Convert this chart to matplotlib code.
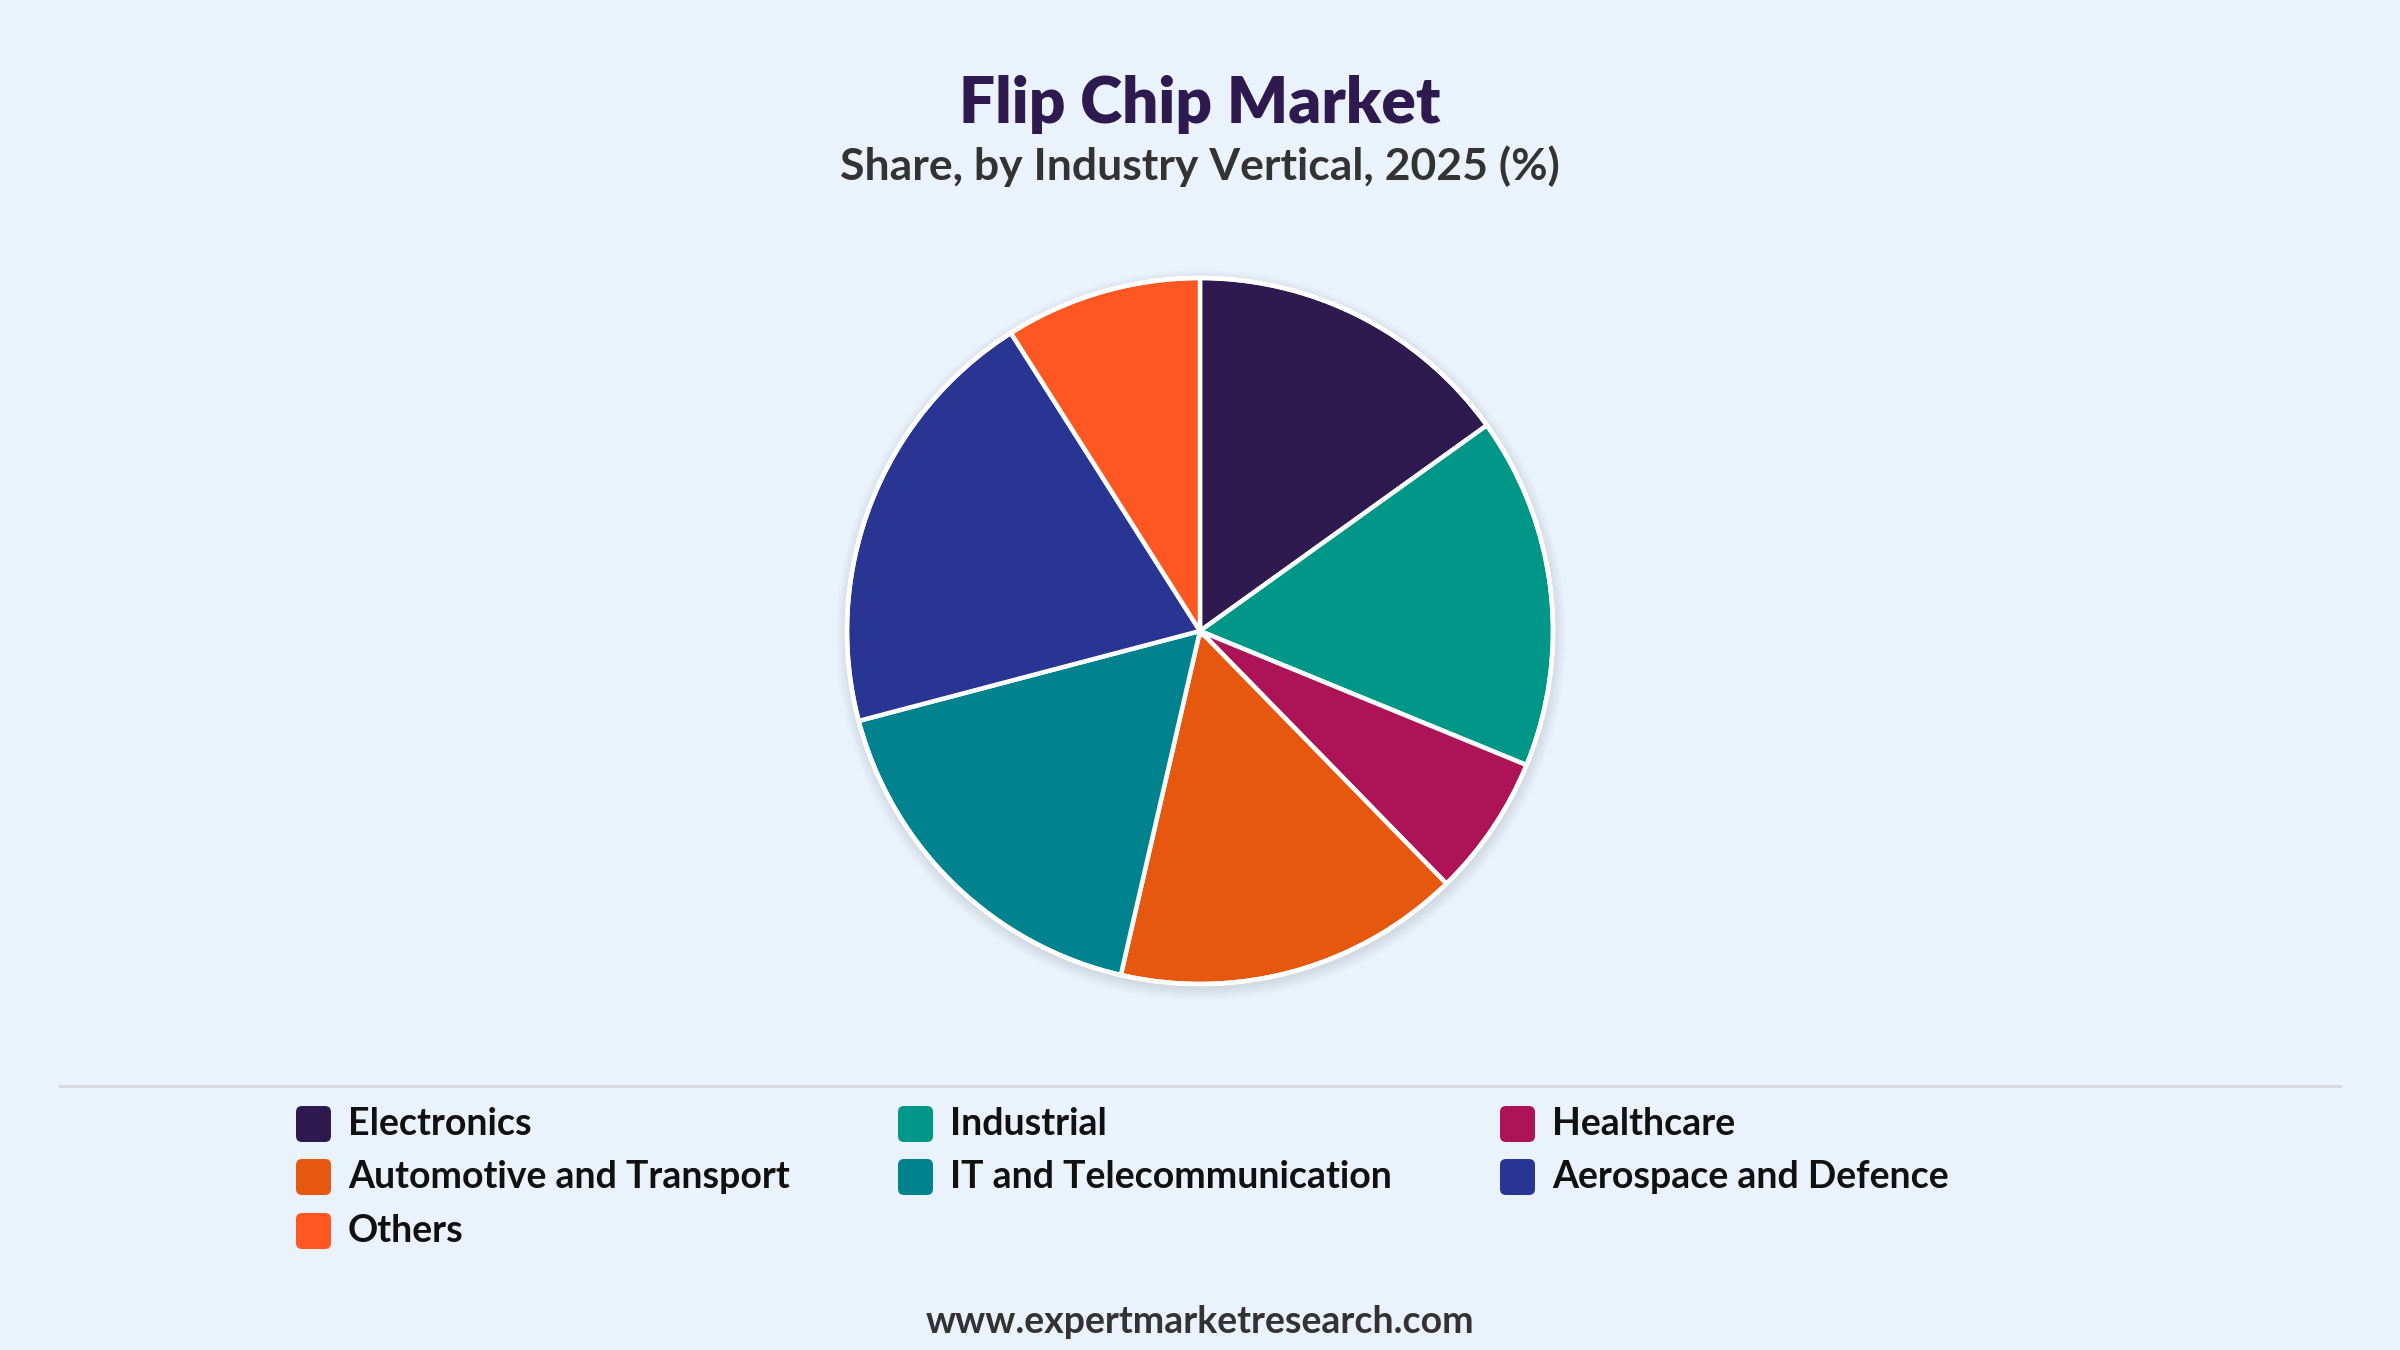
import matplotlib.pyplot as plt
from matplotlib.patches import FancyBboxPatch, Circle

# 데이터
segments = ['Electronics', 'Industrial', 'Healthcare', 'Automotive and Transport',
            'IT and Telecommunication', 'Aerospace and Defence', 'Others']
shares = [15.1, 16.1, 6.5, 15.9, 17.3, 20.1, 9.0]
colors = ['#2E1A4F', '#009688', '#AD1457', '#E6570F', '#00838F', '#283593', '#FF5722']

title = 'Flip Chip Market'
subtitle = 'Share, by Industry Vertical, 2025 (%)'
source = 'www.expertmarketresearch.com'

bg = '#EAF2FC'
plt.rcParams['font.family'] = ['Lato', 'DejaVu Sans']

fig = plt.figure(figsize=(24, 13.5), dpi=100, facecolor=bg)
ax = fig.add_axes([0, 0, 1, 1])
ax.set_facecolor(bg)

W, H = 2400, 1350
cx, cy, r = 1200, H - 631, 353

# 그림자
for i in range(12):
    ax.add_patch(Circle((cx + 1, cy - 4), r + 12 - i, color='#9AA8BA',
                        alpha=0.025, lw=0, zorder=1))

ax.pie(shares, colors=colors, startangle=90, counterclock=False,
       center=(cx, cy), radius=r,
       wedgeprops=dict(edgecolor='white', linewidth=3.2, zorder=2))
ax.add_patch(Circle((cx, cy), r, fill=False, ec='white', lw=3.2, zorder=3))

ax.set_xlim(0, W)
ax.set_ylim(0, H)
ax.set_aspect('equal')
ax.axis('off')

# 타이틀
ax.text(W / 2, H - 104, title, ha='center', va='center', fontsize=46,
        fontweight='heavy', color='#2E1A4F')
ax.text(W / 2, H - 166, subtitle, ha='center', va='center', fontsize=32,
        fontweight='bold', color='#333333')

# 구분선
ax.plot([58, 2342], [H - 1086, H - 1086], color='#D5DAE0', lw=2.2,
        solid_capstyle='butt')

# 범례
col_x = [296, 898, 1500]
row_y = [1124, 1177, 1231]
for i, (name, c) in enumerate(zip(segments, colors)):
    x = col_x[i % 3]
    y = H - row_y[i // 3]
    ax.add_patch(FancyBboxPatch((x, y - 18), 35, 36,
                                boxstyle='round,pad=0,rounding_size=6',
                                fc=c, ec='none'))
    ax.text(x + 52, y, name, ha='left', va='center', fontsize=27,
            fontweight='bold', color='#111111')

# 출처
ax.text(W / 2, H - 1322, source, ha='center', va='center', fontsize=27,
        fontweight='bold', color='#333333')

fig.savefig('out.png', dpi=100, facecolor=bg)
